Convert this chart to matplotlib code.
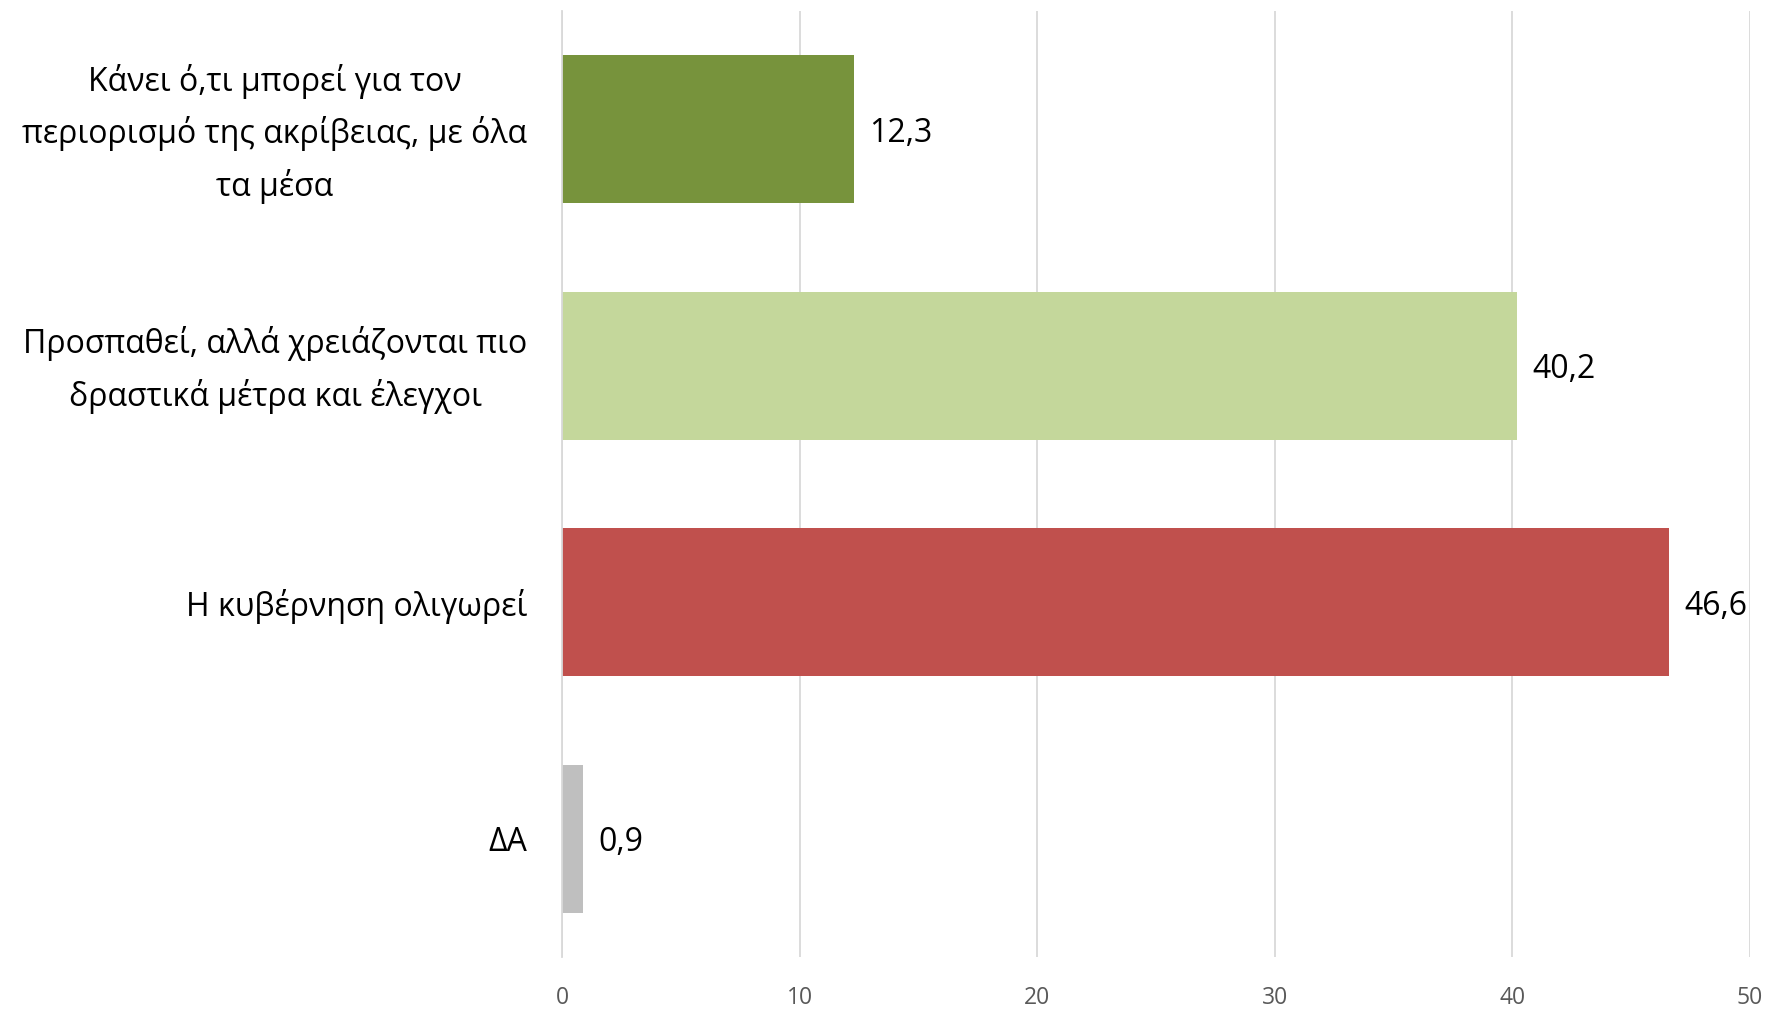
import matplotlib
matplotlib.use("Agg")
import matplotlib.pyplot as plt
from matplotlib.transforms import ScaledTranslation

categories = [
    "Κάνει ό,τι μπορεί για τον\nπεριορισμό της ακρίβειας, με όλα\nτα μέσα",
    "Προσπαθεί, αλλά χρειάζονται πιο\nδραστικά μέτρα και έλεγχοι",
    "Η κυβέρνηση ολιγωρεί",
    "ΔΑ",
]
values = [12.3, 40.2, 46.6, 0.9]
value_labels = ["12,3", "40,2", "46,6", "0,9"]
colors = ["#77933C", "#C4D79B", "#C0504D", "#BFBFBF"]
xticks = [0, 10, 20, 30, 40, 50]

plt.rcParams['font.family'] = ['Open Sans', 'DejaVu Sans']

fig = plt.figure(figsize=(17.69, 10.10), dpi=100)
ax = fig.add_axes([0.3177, 0.0525, 0.9893 - 0.3177, 0.989 - 0.0525])

y = list(range(len(categories)))
ax.barh(y, values, height=0.625, color=colors, zorder=2)
ax.set_ylim(len(categories) - 0.5, -0.5)
ax.set_xlim(0, 50)
ax.set_xticks(xticks)
ax.set_xticklabels([str(t) for t in xticks], fontsize=16.5, color="#595959")
ax.set_yticks(y)
ax.set_yticklabels(categories, fontsize=23, color="black", linespacing=1.66, ha="right")
ax.tick_params(axis="y", length=0, pad=25)
ax.tick_params(axis="x", length=0, pad=21)
for lab in ax.get_yticklabels():
    lab.set_multialignment("center")
    if "\n" in lab.get_text():
        lab.set_transform(lab.get_transform() + ScaledTranslation(0, 6 / 72, fig.dpi_scale_trans))

ax.grid(axis="x", color="#D9D9D9", linewidth=1.3, zorder=0)
for s in ["top", "right", "bottom"]:
    ax.spines[s].set_visible(False)
ax.spines["left"].set_color("#D9D9D9")
ax.spines["left"].set_linewidth(1.3)

for yi, v, lab in zip(y, values, value_labels):
    ax.annotate(lab, xy=(v, yi), xytext=(11, 0), textcoords="offset points",
                va="center_baseline", ha="left", fontsize=23, color="black")

fig.savefig("out.png", dpi=100, facecolor="white")
